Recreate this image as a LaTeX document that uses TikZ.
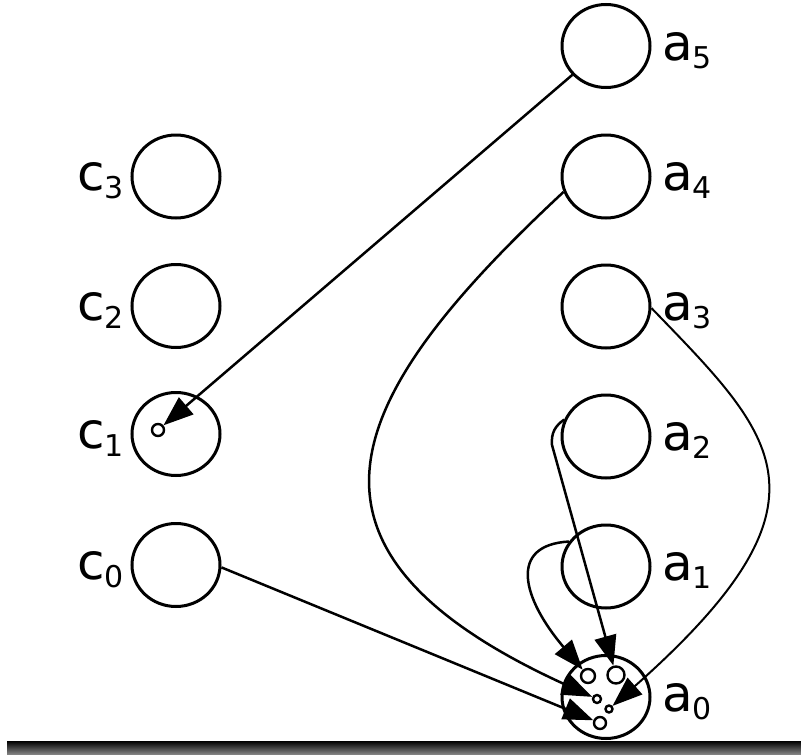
\documentclass[tikz,border=0pt]{standalone}
\usepackage{fontspec}
\setmainfont{DejaVu Sans}
\usetikzlibrary{arrows.meta,shapes.geometric}
\newcommand{\lbl}[2]{{\fontsize{50}{50}\selectfont #1\raisebox{-8pt}{\fontsize{30}{30}\selectfont #2}}}
\begin{document}
\begin{tikzpicture}[x=1pt,y=-1pt,
  st/.style={draw, ellipse, minimum width=88pt, minimum height=83pt, inner sep=0pt, line width=3pt},
  sm/.style={draw, circle, inner sep=0pt, line width=2.4pt},
  lab/.style={inner sep=0pt},
  arr/.style={line width=2.5pt, -{Triangle[length=30pt,width=22pt]}}]
\useasboundingbox (0,0) rectangle (801,755);
\shade[top color=black,bottom color=black!45] (7,741) rectangle (801,755);
% right column
\node[st] (a5) at (606,46) {};
\node[st] (a4) at (606,176.5) {};
\node[st] (a3) at (606,306.5) {};
\node[st] (a2) at (606,436.5) {};
\node[st] (a1) at (606,566.5) {};
\node[st] (a0) at (606,697) {};
% left column
\node[st] (c3) at (176,176.5) {};
\node[st] (c2) at (176,306) {};
\node[st] (c1) at (176,434) {};
\node[st] (c0) at (176,565) {};
% labels
\node[lab, anchor=base west] (la5) at (662,60) {\lbl{a}{5}};
\node[lab, anchor=base west] (la4) at (662,190.5) {\lbl{a}{4}};
\node[lab, anchor=base west] (la3) at (662,320.5) {\lbl{a}{3}};
\node[lab, anchor=base west] (la2) at (662,450.5) {\lbl{a}{2}};
\node[lab, anchor=base west] (la1) at (662,580.5) {\lbl{a}{1}};
\node[lab, anchor=base west] (la0) at (662,711) {\lbl{a}{0}};
\node[lab, anchor=base east] (lc3) at (124,190.5) {\lbl{c}{3}};
\node[lab, anchor=base east] (lc2) at (124,320) {\lbl{c}{2}};
\node[lab, anchor=base east] (lc1) at (124,448) {\lbl{c}{1}};
\node[lab, anchor=base east] (lc0) at (124,579) {\lbl{c}{0}};
% small circles
\node[sm,minimum size=14pt] (s1) at (588,676) {};
\node[sm,minimum size=17pt] (s2) at (616,675) {};
\node[sm,minimum size=8pt] (s3) at (597,699) {};
\node[sm,minimum size=7pt] (s4) at (609,709) {};
\node[sm,minimum size=12pt] (s5) at (600,723) {};
\node[sm,minimum size=12pt] (sc) at (158,430) {};
% connectors
\draw[arr] (a5) -- (sc);
\draw[arr] (c0.-3) -- (s5);
\draw[arr] (a4.200) .. controls (340,400) and (270,550) .. (s3);
\draw[arr, line width=2pt] (a3.-2) .. controls (776,437) and (845,500) .. (s4);
\draw[arr] (a2.158) .. controls (555,426) and (551,433) .. (552,445) -- (s2);
\draw[arr] (a1.146) .. controls (508,545) and (522,598) .. (s1);
\end{tikzpicture}
\end{document}
